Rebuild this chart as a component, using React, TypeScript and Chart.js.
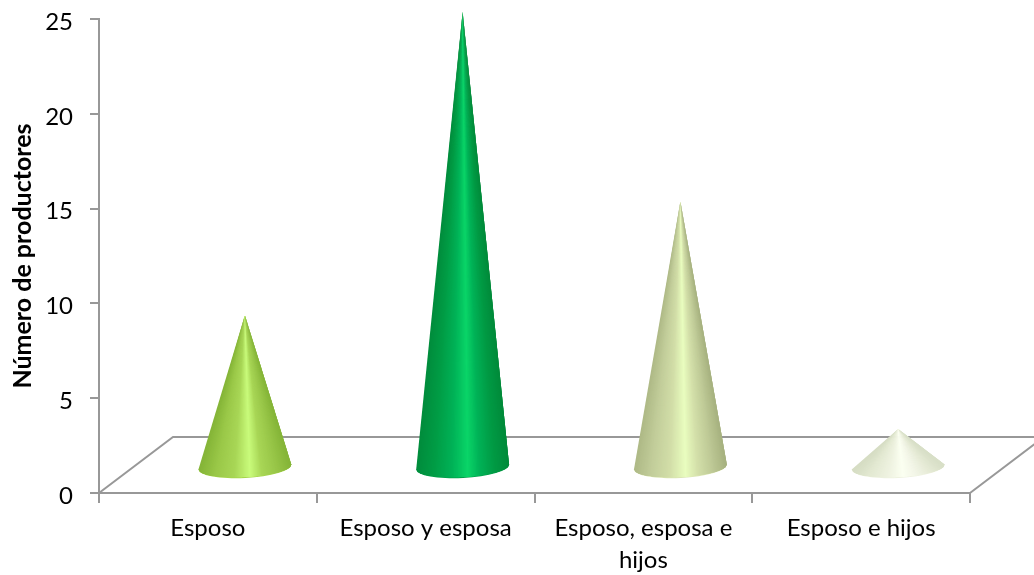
import React, { useEffect, useRef } from "react";
import { Chart, registerables } from "chart.js";

Chart.register(...registerables);

const categories: (string | string[])[] = ["Esposo", "Esposo y esposa", ["Esposo, esposa e", "hijos"], "Esposo e hijos"];
const values = [8, 24, 14, 2];
const gradients = [
  ["#84b437", "#9ac848", "#a8d656", "#c9fb7b", "#a8d656", "#98c648", "#84b437"],
  ["#008c3c", "#009c45", "#00b257", "#0ad568", "#00b257", "#009a44", "#008a3a"],
  ["#aeb986", "#c2cd9a", "#d2dea8", "#e9fdbf", "#d4e0aa", "#bec996", "#a6b17f"],
  ["#d5dcc3", "#e3e9d2", "#eef2e0", "#fbfff1", "#f3f6e8", "#e6ebd6", "#d7dec6"],
];
const rims = ["#a6d64a", "#00a04a", "#dbe6b4", "#eef2e0"];
const gradientStops = [0, 0.18, 0.38, 0.55, 0.68, 0.84, 1];
const axisColor = "#989898";

const depthX = 74;
const depthY = 56;
const baseOffsetX = 37;
const baseOffsetY = 26;
const radiusX = 46.5;
const radiusY = 10;
const tilt = -0.052;
const wedges = 70;

function hexToRgb(h: string) {
  return [1, 3, 5].map((i) => parseInt(h.slice(i, i + 2), 16));
}

function colorAt(colors: string[], t: number) {
  let k = 0;
  while (k < gradientStops.length - 2 && t > gradientStops[k + 1]) k++;
  const f = Math.min(1, Math.max(0, (t - gradientStops[k]) / (gradientStops[k + 1] - gradientStops[k])));
  const a = hexToRgb(colors[k]);
  const b = hexToRgb(colors[k + 1]);
  return `rgb(${a.map((v, j) => Math.round(v + (b[j] - v) * f)).join(",")})`;
}

const conePlugin = {
  id: "cones",
  beforeDatasetsDraw(chart: any) {
    const { ctx, scales } = chart;
    const x = scales.x;
    const b = scales.y.bottom;
    ctx.save();
    ctx.strokeStyle = axisColor;
    ctx.lineWidth = 2;
    ctx.beginPath();
    ctx.moveTo(x.left, b);
    ctx.lineTo(x.left + depthX, b - depthY);
    ctx.lineTo(x.right + depthX, b - depthY);
    ctx.lineTo(x.right, b);
    ctx.stroke();
    ctx.restore();
  },
  afterDatasetsDraw(chart: any) {
    const { ctx } = chart;
    const meta = chart.getDatasetMeta(0);
    const zero = chart.scales.y.getPixelForValue(0);
    const cosT = Math.cos(tilt);
    const sinT = Math.sin(tilt);
    const rimPoint = (cx: number, cy: number, u: number) => {
      const px = radiusX * u;
      const py = radiusY * Math.sqrt(Math.max(0, 1 - u * u));
      return [cx + px * cosT - py * sinT, cy + px * sinT + py * cosT];
    };
    meta.data.forEach((bar: any, i: number) => {
      const cx = bar.x + baseOffsetX;
      const cy = zero - baseOffsetY;
      const tipY = bar.y - baseOffsetY;
      ctx.save();
      ctx.beginPath();
      ctx.ellipse(cx, cy, radiusX, radiusY + 1, tilt, Math.PI, 0, true);
      ctx.closePath();
      ctx.fillStyle = rims[i];
      ctx.fill();
      for (let w = 0; w < wedges; w++) {
        ctx.beginPath();
        ctx.moveTo(cx, tipY);
        for (let p = w; p <= Math.min(wedges, w + 3); p++) {
          const pt = rimPoint(cx, cy, (p / wedges) * 2 - 1);
          ctx.lineTo(pt[0], pt[1]);
        }
        ctx.closePath();
        ctx.fillStyle = colorAt(gradients[i], (w + 0.5) / wedges);
        ctx.fill();
      }
      ctx.restore();
    });
  },
};

export default function App() {
  const ref = useRef<HTMLCanvasElement>(null);
  useEffect(() => {
    const chart = new Chart(ref.current!, {
      type: "bar",
      data: {
        labels: categories as any,
        datasets: [{ data: values, backgroundColor: "rgba(0,0,0,0)", borderWidth: 0 }],
      },
      plugins: [conePlugin],
      options: {
        animation: false,
        responsive: false,
        layout: { padding: { top: 19, right: 64, left: 0, bottom: 0 } },
        plugins: { legend: { display: false }, tooltip: { enabled: false } },
        scales: {
          x: {
            afterFit: (s: any) => { s.height = 82; s.paddingLeft = 0; s.paddingRight = 0; },
            grid: { drawOnChartArea: false, color: axisColor, lineWidth: 2, tickLength: 10 },
            border: { color: axisColor, width: 2 },
            ticks: {
              color: "#000",
              maxRotation: 0,
              autoSkip: false,
              padding: 9,
              font: { family: "Lato", size: 24, lineHeight: 1.34 },
            },
          },
          y: {
            min: 0,
            max: 25,
            afterFit: (s: any) => { s.width = 99; s.paddingTop = 0; s.paddingBottom = 0; },
            grid: { drawOnChartArea: false, color: axisColor, lineWidth: 2, tickLength: 9 },
            border: { color: axisColor, width: 2 },
            ticks: {
              stepSize: 5,
              color: "#000",
              padding: 17,
              labelOffset: 3,
              font: { family: "Lato", size: 24 },
            },
            title: {
              display: true,
              text: "Número de productores",
              color: "#000",
              padding: { top: 8, bottom: 0 },
              font: { family: "Lato", size: 25, weight: "bold" },
            },
          },
        },
      },
    } as any);
    return () => chart.destroy();
  }, []);
  return (
    <div style={{ position: "absolute", left: 0, top: 0, width: 1034, height: 575 }}>
      <canvas ref={ref} width={1034} height={575} style={{ display: "block" }} />
    </div>
  );
}
